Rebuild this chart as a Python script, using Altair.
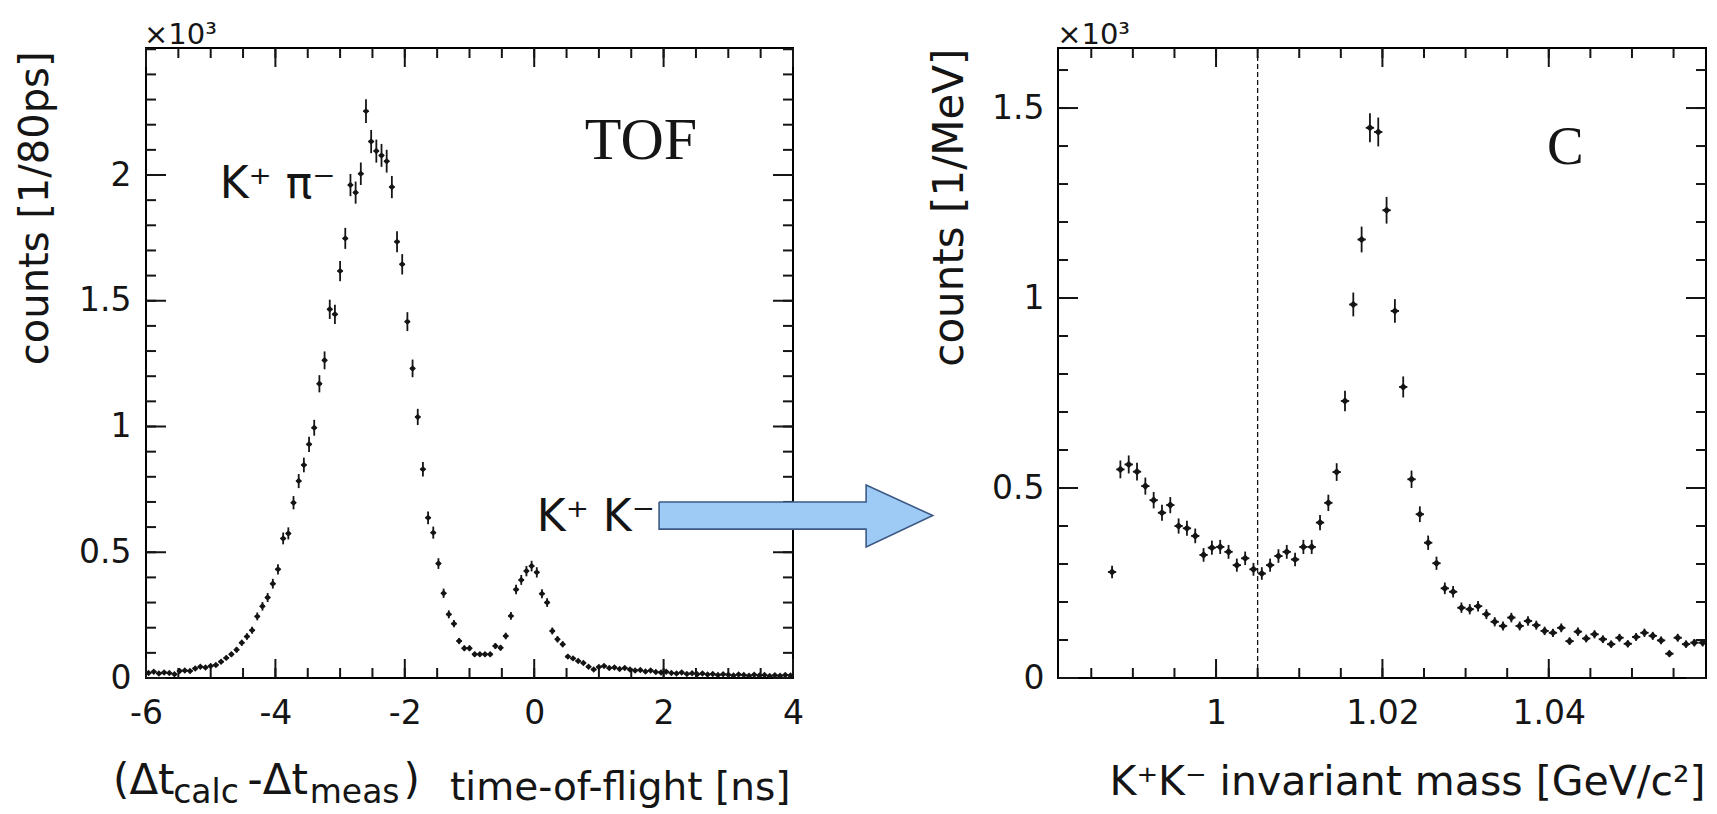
import math
import altair as alt
import pandas as pd

# ---------------------------------------------------------------- data
# Time-of-flight difference histogram, counts per 80 ps bin (units of 10^3)
TOF_BIN_START = -6.0
TOF_BIN_WIDTH = 0.08
TOF_COUNTS = [
    0.020, 0.025, 0.018, 0.022, 0.020, 0.015, 0.028, 0.030, 0.028, 0.038,
    0.045, 0.042, 0.048, 0.052, 0.065, 0.080, 0.094, 0.112, 0.140, 0.165,
    0.190, 0.245, 0.285, 0.320, 0.375, 0.432, 0.555, 0.575, 0.697, 0.783,
    0.847, 0.929, 0.995, 1.170, 1.263, 1.466, 1.446, 1.618, 1.748, 1.960,
    1.930, 2.005, 2.254, 2.133, 2.095, 2.078, 2.055, 1.952, 1.735, 1.645,
    1.417, 1.231, 1.038, 0.830, 0.637, 0.578, 0.455, 0.337, 0.253, 0.216,
    0.147, 0.118, 0.118, 0.094, 0.094, 0.094, 0.094, 0.127, 0.120, 0.167,
    0.247, 0.352, 0.390, 0.425, 0.445, 0.420, 0.335, 0.300, 0.187, 0.154,
    0.134, 0.085, 0.078, 0.068, 0.060, 0.045, 0.034, 0.044, 0.048, 0.040,
    0.042, 0.036, 0.040, 0.034, 0.030, 0.032, 0.026, 0.030, 0.024, 0.022,
    0.025, 0.020, 0.018, 0.022, 0.016, 0.019, 0.015, 0.018, 0.014, 0.016,
    0.012, 0.015, 0.013, 0.010, 0.014, 0.012, 0.009, 0.013, 0.010, 0.012,
    0.008, 0.011, 0.009, 0.012, 0.010,
]

# K+K- invariant mass histogram, counts per 1 MeV bin (units of 10^3)
MASS_BIN_START = 0.987
MASS_BIN_WIDTH = 0.001
MASS_COUNTS = [
    0.279, 0.549, 0.562, 0.543, 0.505, 0.468, 0.435, 0.455, 0.400, 0.394,
    0.374, 0.324, 0.343, 0.345, 0.332, 0.297, 0.315, 0.286, 0.275, 0.297,
    0.321, 0.332, 0.312, 0.345, 0.345, 0.409, 0.461, 0.542, 0.729, 0.983,
    1.154, 1.448, 1.437, 1.231, 0.966, 0.766, 0.523, 0.431, 0.356, 0.302,
    0.236, 0.227, 0.185, 0.181, 0.189, 0.168, 0.148, 0.137, 0.159, 0.137,
    0.150, 0.139, 0.124, 0.119, 0.132, 0.097, 0.122, 0.104, 0.115, 0.102,
    0.089, 0.106, 0.090, 0.108, 0.119, 0.111, 0.099, 0.064, 0.106, 0.089,
    0.093, 0.093,
]
MASS_CUT = [1.005]

# axis ticks
TOF_X_MAJOR = [-6, -4, -2, 0, 2, 4]
TOF_X_MINOR = [round(-6 + 0.5 * i, 2) for i in range(21)]
TOF_Y_MAJOR = [0, 0.5, 1, 1.5, 2]
TOF_Y_MINOR = [round(0.1 * i, 2) for i in range(26)]
MASS_X_MAJOR = [1.0, 1.02, 1.04]
MASS_X_MINOR = [round(0.985 + 0.005 * i, 3) for i in range(15)]
MASS_Y_MAJOR = [0, 0.5, 1, 1.5]
MASS_Y_MINOR = [round(0.1 * i, 2) for i in range(17)]

# annotations (data coordinates of each panel)
TOF_LABELS = {"text": ["K⁺ π⁻", "K⁺ K⁻"], "x": [-4.86, 0.04], "y": [1.908, 0.584]}
ARROW_FILL = {"x": [1.93, 5.13, 5.1301, 6.16],
              "top": [0.700, 0.700, 0.767, 0.646],
              "bottom": [0.592, 0.592, 0.521, 0.646]}
ARROW_OUTLINE = {"x": [1.93, 5.13, 5.13, 6.16, 5.13, 5.13, 1.93, 1.93],
                 "y": [0.700, 0.700, 0.767, 0.646, 0.521, 0.592, 0.592, 0.700]}
DT_MAIN = {"text": ["(Δt", "-Δt", ")"], "x": [-6.51, -4.43, -2.02], "y": [-0.461] * 3}
DT_SUB = {"text": ["calc", "meas"], "x": [-5.58, -3.47], "y": [-0.497] * 2}

# ---------------------------------------------------------------- styling
SANS = "DejaVu Sans"
SERIF = "Liberation Serif"
INK = "#151515"
W_L, W_R, H = 647, 648, 630

tof_x = alt.Scale(domain=[-6, 4], nice=False, zero=False)
tof_y = alt.Scale(domain=[0, 2.505], nice=False, zero=False)
mass_x = alt.Scale(domain=[0.981, 1.0589], nice=False, zero=False)
mass_y = alt.Scale(domain=[0, 1.658], nice=False, zero=False)

LABEL_EXPR = "'' + datum.value"


def histogram_frame(start, width, counts):
    rows = []
    for i, v in enumerate(counts):
        c = start + width * (i + 0.5)
        e = math.sqrt(v * 1000.0) / 1000.0
        rows.append({"c": c, "v": v, "lo": max(v - e, 0), "hi": v + e,
                     "c0": c - width / 2, "c1": c + width / 2})
    return pd.DataFrame(rows)


def frame_ticks(xs, ys, xmaj, xmin, ymaj, ymin, w, h):
    layers = []
    for vals, length in ((xmaj, 19), (xmin, 10)):
        base = alt.Chart(pd.DataFrame({"p": vals})).mark_rule(color=INK, strokeWidth=2)
        xe = alt.X("p:Q", scale=xs)
        layers.append(base.encode(x=xe, y=alt.value(h), y2=alt.value(h - length)))
        layers.append(base.encode(x=xe, y=alt.value(0), y2=alt.value(length)))
    for vals, length in ((ymaj, 20), (ymin, 10)):
        base = alt.Chart(pd.DataFrame({"p": vals})).mark_rule(color=INK, strokeWidth=2)
        ye = alt.Y("p:Q", scale=ys)
        layers.append(base.encode(y=ye, x=alt.value(0), x2=alt.value(length)))
        layers.append(base.encode(y=ye, x=alt.value(w), x2=alt.value(w - length)))
    return layers


def data_layers(df, xs, ys, xaxis, yaxis, size):
    pts = alt.Chart(df).mark_point(shape="diamond", filled=True, color=INK,
                                   opacity=1, size=size, clip=True).encode(
        x=alt.X("c:Q", scale=xs, axis=xaxis),
        y=alt.Y("v:Q", scale=ys, axis=yaxis))
    err_v = alt.Chart(df).mark_rule(color=INK, strokeWidth=1.8, clip=True).encode(
        x=alt.X("c:Q", scale=xs),
        y=alt.Y("lo:Q", scale=ys), y2="hi:Q")
    err_h = alt.Chart(df).mark_rule(color=INK, strokeWidth=1.8, clip=True).encode(
        x=alt.X("c0:Q", scale=xs), x2="c1:Q",
        y=alt.Y("v:Q", scale=ys))
    return [pts, err_v, err_h]


def axis(values, title, title_size, title_x, title_y, pad, orient_x):
    kw = dict(values=values, labelExpr=LABEL_EXPR, labelPadding=pad,
              title=title, titleFontSize=title_size, titleX=title_x, titleY=title_y)
    if not orient_x:
        kw["titleAngle"] = 270
    return alt.Axis(**kw)


def text_layer(d, xs, ys, font, size, align="left"):
    return alt.Chart(pd.DataFrame(d)).mark_text(
        font=font, fontSize=size, align=align, baseline="alphabetic", color=INK
    ).encode(x=alt.X("x:Q", scale=xs),
             y=alt.Y("y:Q", scale=ys), text="text:N")


# ---------------------------------------------------------------- TOF panel
tof_df = histogram_frame(TOF_BIN_START, TOF_BIN_WIDTH, TOF_COUNTS)

anchor = alt.Chart(pd.DataFrame({"a": [0]})).mark_rule(opacity=0, strokeWidth=1).encode(
    x=alt.value(-145), x2=alt.value(-144), y=alt.value(-47), y2=alt.value(-46))

arrow_fill = alt.Chart(pd.DataFrame(ARROW_FILL)).mark_area(
    fill="#9ecbf5", interpolate="linear"
).encode(x=alt.X("x:Q", scale=tof_x),
         y=alt.Y("top:Q", scale=tof_y), y2="bottom:Q")
arrow_line = alt.Chart(
    pd.DataFrame({**ARROW_OUTLINE, "i": list(range(len(ARROW_OUTLINE["x"])))})
).mark_line(color="#3c5a85", strokeWidth=1.6, interpolate="linear").encode(
    x=alt.X("x:Q", scale=tof_x), y=alt.Y("y:Q", scale=tof_y), order="i:Q")

tof_layers = data_layers(
    tof_df, tof_x, tof_y,
    axis(TOF_X_MAJOR, "time-of-flight [ns]", 39, 644, 121, 19, True),
    axis(TOF_Y_MAJOR, "counts [1/80ps]", 40, -99, 3, 15, False),
    42)
tof_layers += frame_ticks(tof_x, tof_y, TOF_X_MAJOR, TOF_X_MINOR,
                          TOF_Y_MAJOR, TOF_Y_MINOR, W_L, H)
tof_layers += [
    anchor,
    text_layer({"text": ["TOF"], "x": [1.65], "y": [2.064]}, tof_x, tof_y, SERIF, 60, "center"),
    text_layer({"text": ["×10³"], "x": [-6.03], "y": [2.505 + 0.016]}, tof_x, tof_y, SANS, 29),
    text_layer(TOF_LABELS, tof_x, tof_y, SANS, 44),
    text_layer(DT_MAIN, tof_x, tof_y, SANS, 42),
    text_layer(DT_SUB, tof_x, tof_y, SANS, 33),
    arrow_fill,
    arrow_line,
]
tof_panel = alt.layer(*tof_layers).properties(width=W_L, height=H)

# ---------------------------------------------------------------- mass panel
mass_df = histogram_frame(MASS_BIN_START, MASS_BIN_WIDTH, MASS_COUNTS)

cut = alt.Chart(pd.DataFrame({"m": MASS_CUT})).mark_rule(
    color=INK, strokeWidth=1.3, strokeDash=[5, 3]
).encode(x=alt.X("m:Q", scale=mass_x))

mass_layers = data_layers(
    mass_df, mass_x, mass_y,
    axis(MASS_X_MAJOR, "K⁺K⁻ invariant mass [GeV/c²]", 41, 647, 116, 19, True),
    axis(MASS_Y_MAJOR, "counts [1/MeV]", 42, -96, 0, 14, False),
    58)
mass_layers += frame_ticks(mass_x, mass_y, MASS_X_MAJOR, MASS_X_MINOR,
                           MASS_Y_MAJOR, MASS_Y_MINOR, W_R, H)
mass_layers += [
    cut,
    text_layer({"text": ["C"], "x": [1.0420], "y": [1.3526]}, mass_x, mass_y, SERIF, 55, "center"),
    text_layer({"text": ["×10³"], "x": [0.9809], "y": [1.658 + 0.010]}, mass_x, mass_y, SANS, 29),
]
mass_panel = alt.layer(*mass_layers).properties(width=W_R, height=H)

chart = alt.hconcat(
    tof_panel, mass_panel, spacing=265, bounds="flush", padding=0, background="white"
).configure_view(
    stroke="black", strokeWidth=2
).configure_axis(
    grid=False, ticks=False, tickSize=0, domain=False,
    labelFont=SANS, labelFontSize=33, labelColor=INK,
    labelFlush=False, labelOverlap=False,
    titleFont=SANS, titleFontWeight="normal", titleColor=INK,
    titleAlign="right", titleBaseline="alphabetic",
)

chart.save("out.html", embed_options={"renderer": "svg", "actions": False})
